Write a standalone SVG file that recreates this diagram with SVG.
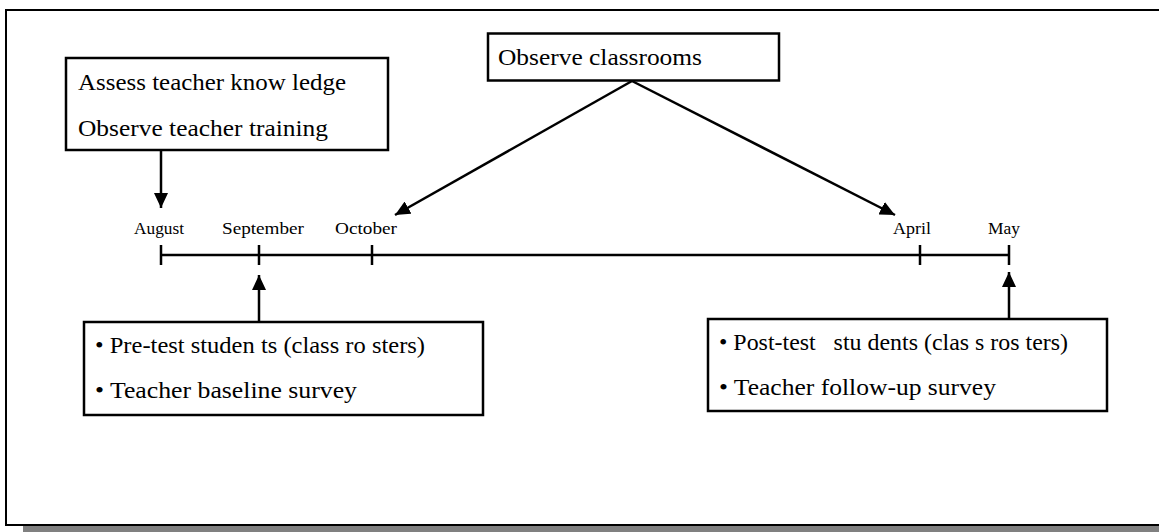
<svg xmlns="http://www.w3.org/2000/svg" width="1159" height="532" viewBox="0 0 1159 532">
  <style>
    .box { fill: #fff; stroke: #000; stroke-width: 2.5; }
    .lbl { font-family: "Liberation Serif", "Times New Roman", serif; font-size: 23px; fill: #000; }
    .mon { font-family: "Liberation Serif", "Times New Roman", serif; font-size: 17px; fill: #000; }
    .ln { stroke: #000; stroke-width: 2.5; fill: none; }
  </style>
  <defs>
    <marker id="ah" markerUnits="userSpaceOnUse" markerWidth="16" markerHeight="14" refX="15" refY="7" orient="auto">
      <path d="M0,0 L15,7 L0,14 Z" fill="#000"/>
    </marker>
  </defs>
  <rect x="0" y="0" width="1159" height="532" fill="#fff"/>
  <g id="frame">
    <rect x="23" y="526" width="1136" height="6" fill="#808080"/>
    <path d="M6,526 L6,10 L1160,10" fill="none" stroke="#000" stroke-width="2"/>
    <path d="M5,525 L1160,525" fill="none" stroke="#000" stroke-width="2"/>
  </g>
  <g id="timeline">
    <path class="ln" d="M161,255 L1009,255 M161,245 L161,265 M259,245 L259,265 M372,245 L372,265 M920,245 L920,265 M1009,245 L1009,265"/>
    <text class="mon" x="134" y="234" textLength="50" lengthAdjust="spacingAndGlyphs">August</text>
    <text class="mon" x="222" y="234" textLength="82" lengthAdjust="spacingAndGlyphs">September</text>
    <text class="mon" x="335" y="234" textLength="62" lengthAdjust="spacingAndGlyphs">October</text>
    <text class="mon" x="893" y="234" textLength="38" lengthAdjust="spacingAndGlyphs">April</text>
    <text class="mon" x="988" y="234" textLength="32" lengthAdjust="spacingAndGlyphs">May</text>
  </g>
  <g id="connectors">
    <path class="ln" d="M161,150 L161,208" marker-end="url(#ah)"/>
    <path class="ln" d="M632,81 L395,215" marker-end="url(#ah)"/>
    <path class="ln" d="M632,81 L895,215" marker-end="url(#ah)"/>
    <path class="ln" d="M259,322 L259,275" marker-end="url(#ah)"/>
    <path class="ln" d="M1009,319 L1009,272" marker-end="url(#ah)"/>
  </g>
  <g id="node-assess">
    <rect class="box" x="66" y="58" width="322" height="92"/>
    <text class="lbl" x="78" y="90" textLength="268" lengthAdjust="spacingAndGlyphs" xml:space="preserve">Assess teacher know ledge</text>
    <text class="lbl" x="78" y="136" textLength="250" lengthAdjust="spacingAndGlyphs">Observe teacher training</text>
  </g>
  <g id="node-observe">
    <rect class="box" x="488" y="33.5" width="291" height="47"/>
    <text class="lbl" x="498" y="65" textLength="204" lengthAdjust="spacingAndGlyphs">Observe classrooms</text>
  </g>
  <g id="node-pretest">
    <rect class="box" x="84" y="322" width="399" height="93"/>
    <text class="lbl" x="95" y="353" textLength="330" lengthAdjust="spacingAndGlyphs" xml:space="preserve">• Pre-test studen ts (class ro sters)</text>
    <text class="lbl" x="95" y="398" textLength="262" lengthAdjust="spacingAndGlyphs">• Teacher baseline survey</text>
  </g>
  <g id="node-posttest">
    <rect class="box" x="708" y="319" width="399" height="92"/>
    <text class="lbl" x="719" y="350" textLength="349" lengthAdjust="spacingAndGlyphs" xml:space="preserve">• Post-test   stu dents (clas s ros ters)</text>
    <text class="lbl" x="719" y="395" textLength="277" lengthAdjust="spacingAndGlyphs">• Teacher follow-up survey</text>
  </g>
</svg>
